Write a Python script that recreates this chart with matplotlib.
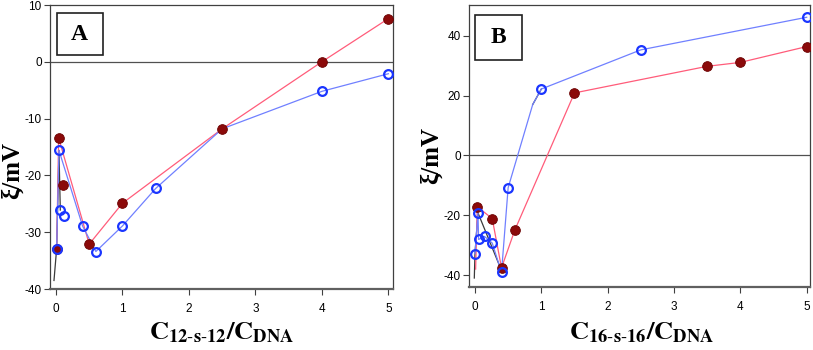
import numpy as np
import matplotlib
matplotlib.use("Agg")
import matplotlib.pyplot as plt
from matplotlib.patches import Rectangle

plt.rcParams['mathtext.fontset'] = 'stix'
plt.rcParams['font.family'] = ['Liberation Sans', 'DejaVu Sans']
plt.rcParams['axes.unicode_minus'] = False

nan = np.nan
# ---------------- Panel A data ----------------
a_red_pts_x = [0.01, 0.04, 0.11, 0.5, 1.0, 2.5, 4.0, 5.0]
a_red_pts_y = [-33.0, -13.4, -21.7, -32.1, -24.9, -11.8, 0.0, 7.6]
a_red_line_x = [0.01, 0.04, 0.5, 1.0, 2.5, 4.0, 5.0]
a_red_line_y = [-33.0, -13.4, -32.1, -24.9, -11.8, 0.0, 7.6]
a_blue_pts_x = [0.01, 0.045, 0.065, 0.12, 0.4, 0.6, 1.0, 1.5, 4.0, 5.0]
a_blue_pts_y = [-32.9, -15.6, -26.1, -27.1, -28.9, -33.4, -28.9, -22.3, -5.2, -2.1]
a_blue_line_x = [0.01, 0.045, 0.4, 0.6, 1.0, 1.5, 2.5, 4.0, 5.0]
a_blue_line_y = [-32.9, -15.6, -28.9, -33.4, -28.9, -22.3, -11.8, -5.2, -2.1]
a_black_x = [-0.03, 0.01, 0.045, 0.065]
a_black_y = [-38.5, -32.9, -15.6, -26.1]

# ---------------- Panel B data ----------------
b_red_pts_x = [0.035, 0.26, 0.4, 0.6, 1.5, 3.5, 4.0, 5.0]
b_red_pts_y = [-17.2, -21.1, -37.6, -25.0, 20.9, 29.8, 31.1, 36.4]
b_red_line_x = [0.01, 0.035, 0.26, 0.4, 0.6, 1.5, 3.5, 4.0, 5.0]
b_red_line_y = [-38.0, -17.2, -21.1, -37.6, -25.0, 20.9, 29.8, 31.1, 36.4]
b_blue_pts_x = [0.0, 0.045, 0.055, 0.145, 0.26, 0.4, 0.5, 1.0, 2.5, 5.0]
b_blue_pts_y = [-32.9, -19.2, -28.1, -27.1, -29.3, -39.1, -10.8, 22.2, 35.3, 46.2]
b_blue_line_x = [0.0, 0.045, 0.055, 0.145, 0.26, 0.4, 0.5, 0.87, 1.0, 2.5, 5.0]
b_blue_line_y = [-32.9, -19.2, -28.1, -27.1, -29.3, -39.1, -10.8, 17.0, 22.2, 35.3, 46.2]
b_black_x = [-0.01, 0.0, 0.045, 0.4, nan, 0.87, 1.0]
b_black_y = [-41.0, -32.9, -19.2, -38.5, nan, 17.0, 22.2]

RED_LINE = '#ff5c7a'
RED_FILL = '#8b0a0a'
BLUE_LINE = '#7080ff'
BLUE_EDGE = '#1a35ff'
BLACK = '#3a3a3a'

fig = plt.figure(figsize=(8.13, 3.5), dpi=100)
axA = fig.add_axes([50/813, 1-289/350, 343/813, 284/350])
axB = fig.add_axes([469/813, 1-287/350, 341/813, 282/350])


def draw(ax, blk_x, blk_y, rlx, rly, rpx, rpy, blx, bly, bpx, bpy):
    ax.plot(blk_x, blk_y, color=BLACK, lw=0.9, zorder=2)
    ax.plot(rlx, rly, color=RED_LINE, lw=0.9, zorder=3)
    ax.plot(blx, bly, color=BLUE_LINE, lw=0.9, zorder=3)
    ax.plot(rpx, rpy, ls='none', marker='o', ms=7, mfc=RED_FILL,
            mec='#6a0000', mew=0.6, zorder=4)
    ax.plot(bpx, bpy, ls='none', marker='o', ms=6.3, mfc='none',
            mec=BLUE_EDGE, mew=1.6, zorder=5)
    ax.axhline(0, color='#505050', lw=0.9, zorder=1)
    for s in ax.spines.values():
        s.set_color('#404040')
        s.set_linewidth(0.9)
    ax.spines['bottom'].set_linewidth(1.6)
    ax.spines['bottom'].set_color('#606060')
    ax.tick_params(direction='out', length=4, width=0.8, color='#404040',
                   labelsize=8.5, pad=2)
    ax.tick_params(axis='x', pad=6)
    ax.set_xticks([0, 1, 2, 3, 4, 5])


draw(axA, a_black_x, a_black_y, a_red_line_x, a_red_line_y, a_red_pts_x, a_red_pts_y,
     a_blue_line_x, a_blue_line_y, a_blue_pts_x, a_blue_pts_y)
axA.set_xlim(-0.09, 5.07)
axA.set_ylim(-40, 10)
axA.set_yticks([-40, -30, -20, -10, 0, 10])

draw(axB, b_black_x, b_black_y, b_red_line_x, b_red_line_y, b_red_pts_x, b_red_pts_y,
     b_blue_line_x, b_blue_line_y, b_blue_pts_x, b_blue_pts_y)
axB.set_xlim(-0.09, 5.05)
axB.set_ylim(-44, 50.3)
axB.set_yticks([-40, -20, 0, 20, 40])

# panel letters
for ax, letter, (x0, y0, x1, y1) in [(axA, 'A', (56.7, 12.7, 102.7, 55.3)),
                                     (axB, 'B', (475, 15, 521.7, 60))]:
    r = Rectangle((x0/813, 1-y1/350), (x1-x0)/813, (y1-y0)/350, transform=fig.transFigure,
                  fill=True, facecolor='white', edgecolor='#202020', lw=1.2, zorder=10)
    fig.add_artist(r)
    fig.text((x0+x1)/2/813, 1-(y0+y1)/2/350, letter, ha='center', va='center',
             family='Liberation Serif', weight='bold', fontsize=17, zorder=11)

# axis labels
fig.text(12/813, 1-170/350, 'ξ/mV', rotation=90, ha='center', va='center',
         family='Liberation Serif', weight='bold', fontsize=18)
fig.text(431/813, 1-155/350, 'ξ/mV', rotation=90, ha='center', va='center',
         family='Liberation Serif', weight='bold', fontsize=18)
fig.text(222/813, 1-333/350, r'$\mathbf{C_{12\text{-}s\text{-}12}/C_{DNA}}$',
         ha='center', va='center', fontsize=19)
fig.text(642/813, 1-333/350, r'$\mathbf{C_{16\text{-}s\text{-}16}/C_{DNA}}$',
         ha='center', va='center', fontsize=19)

fig.savefig('out.png', dpi=100)
